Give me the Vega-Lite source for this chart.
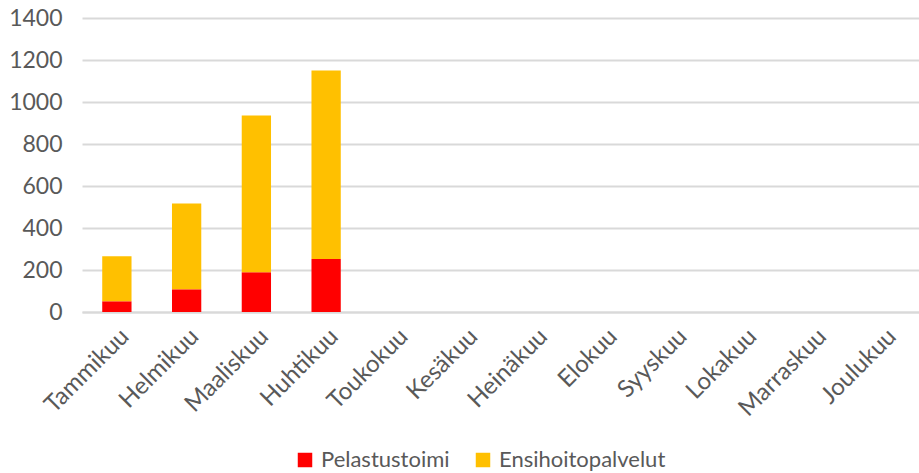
{
  "$schema": "https://vega.github.io/schema/vega-lite/v6.json",
  "width": 837,
  "height": 294,
  "autosize": {"type": "none"},
  "padding": {"left": 82, "top": 18, "right": 0, "bottom": 161},
  "config": {
    "view": {"stroke": null},
    "font": "Lato, sans-serif"
  },
  "data": {
    "values": [
      {"kuukausi": "Tammikuu", "sarja": "Pelastustoimi", "arvo": 51},
      {"kuukausi": "Tammikuu", "sarja": "Ensihoitopalvelut", "arvo": 214},
      {"kuukausi": "Helmikuu", "sarja": "Pelastustoimi", "arvo": 108},
      {"kuukausi": "Helmikuu", "sarja": "Ensihoitopalvelut", "arvo": 409},
      {"kuukausi": "Maaliskuu", "sarja": "Pelastustoimi", "arvo": 189},
      {"kuukausi": "Maaliskuu", "sarja": "Ensihoitopalvelut", "arvo": 747},
      {"kuukausi": "Huhtikuu", "sarja": "Pelastustoimi", "arvo": 252},
      {"kuukausi": "Huhtikuu", "sarja": "Ensihoitopalvelut", "arvo": 898}
    ]
  },
  "mark": {"type": "bar"},
  "encoding": {
    "x": {
      "field": "kuukausi",
      "type": "nominal",
      "scale": {
        "domain": ["Tammikuu", "Helmikuu", "Maaliskuu", "Huhtikuu", "Toukokuu", "Kesäkuu", "Heinäkuu", "Elokuu", "Syyskuu", "Lokakuu", "Marraskuu", "Joulukuu"],
        "paddingInner": 0.58,
        "paddingOuter": 0.29
      },
      "axis": {
        "title": null,
        "labelAngle": -45,
        "labelFontSize": 24,
        "labelColor": "#595959",
        "ticks": false,
        "domainColor": "#d9d9d9",
        "domainWidth": 2,
        "labelPadding": 12
      }
    },
    "y": {
      "field": "arvo",
      "type": "quantitative",
      "stack": "zero",
      "scale": {"domain": [0, 1400]},
      "axis": {
        "title": null,
        "values": [0, 200, 400, 600, 800, 1000, 1200, 1400],
        "format": "d",
        "grid": true,
        "gridColor": "#d9d9d9",
        "gridWidth": 2,
        "domain": false,
        "ticks": false,
        "labelFontSize": 23,
        "labelColor": "#595959",
        "labelPadding": 20
      }
    },
    "color": {
      "field": "sarja",
      "type": "nominal",
      "scale": {
        "domain": ["Pelastustoimi", "Ensihoitopalvelut"],
        "range": ["#FF0000", "#FFC000"]
      },
      "legend": {
        "title": null,
        "orient": "none",
        "legendX": 212,
        "legendY": 431,
        "direction": "horizontal",
        "symbolType": "square",
        "symbolSize": 210,
        "symbolStrokeWidth": 0,
        "labelFontSize": 22,
        "labelLimit": 400,
        "labelColor": "#595959",
        "columnPadding": 22,
        "labelOffset": 5
      }
    },
    "order": {"field": "sarja", "sort": "descending"}
  }
}
